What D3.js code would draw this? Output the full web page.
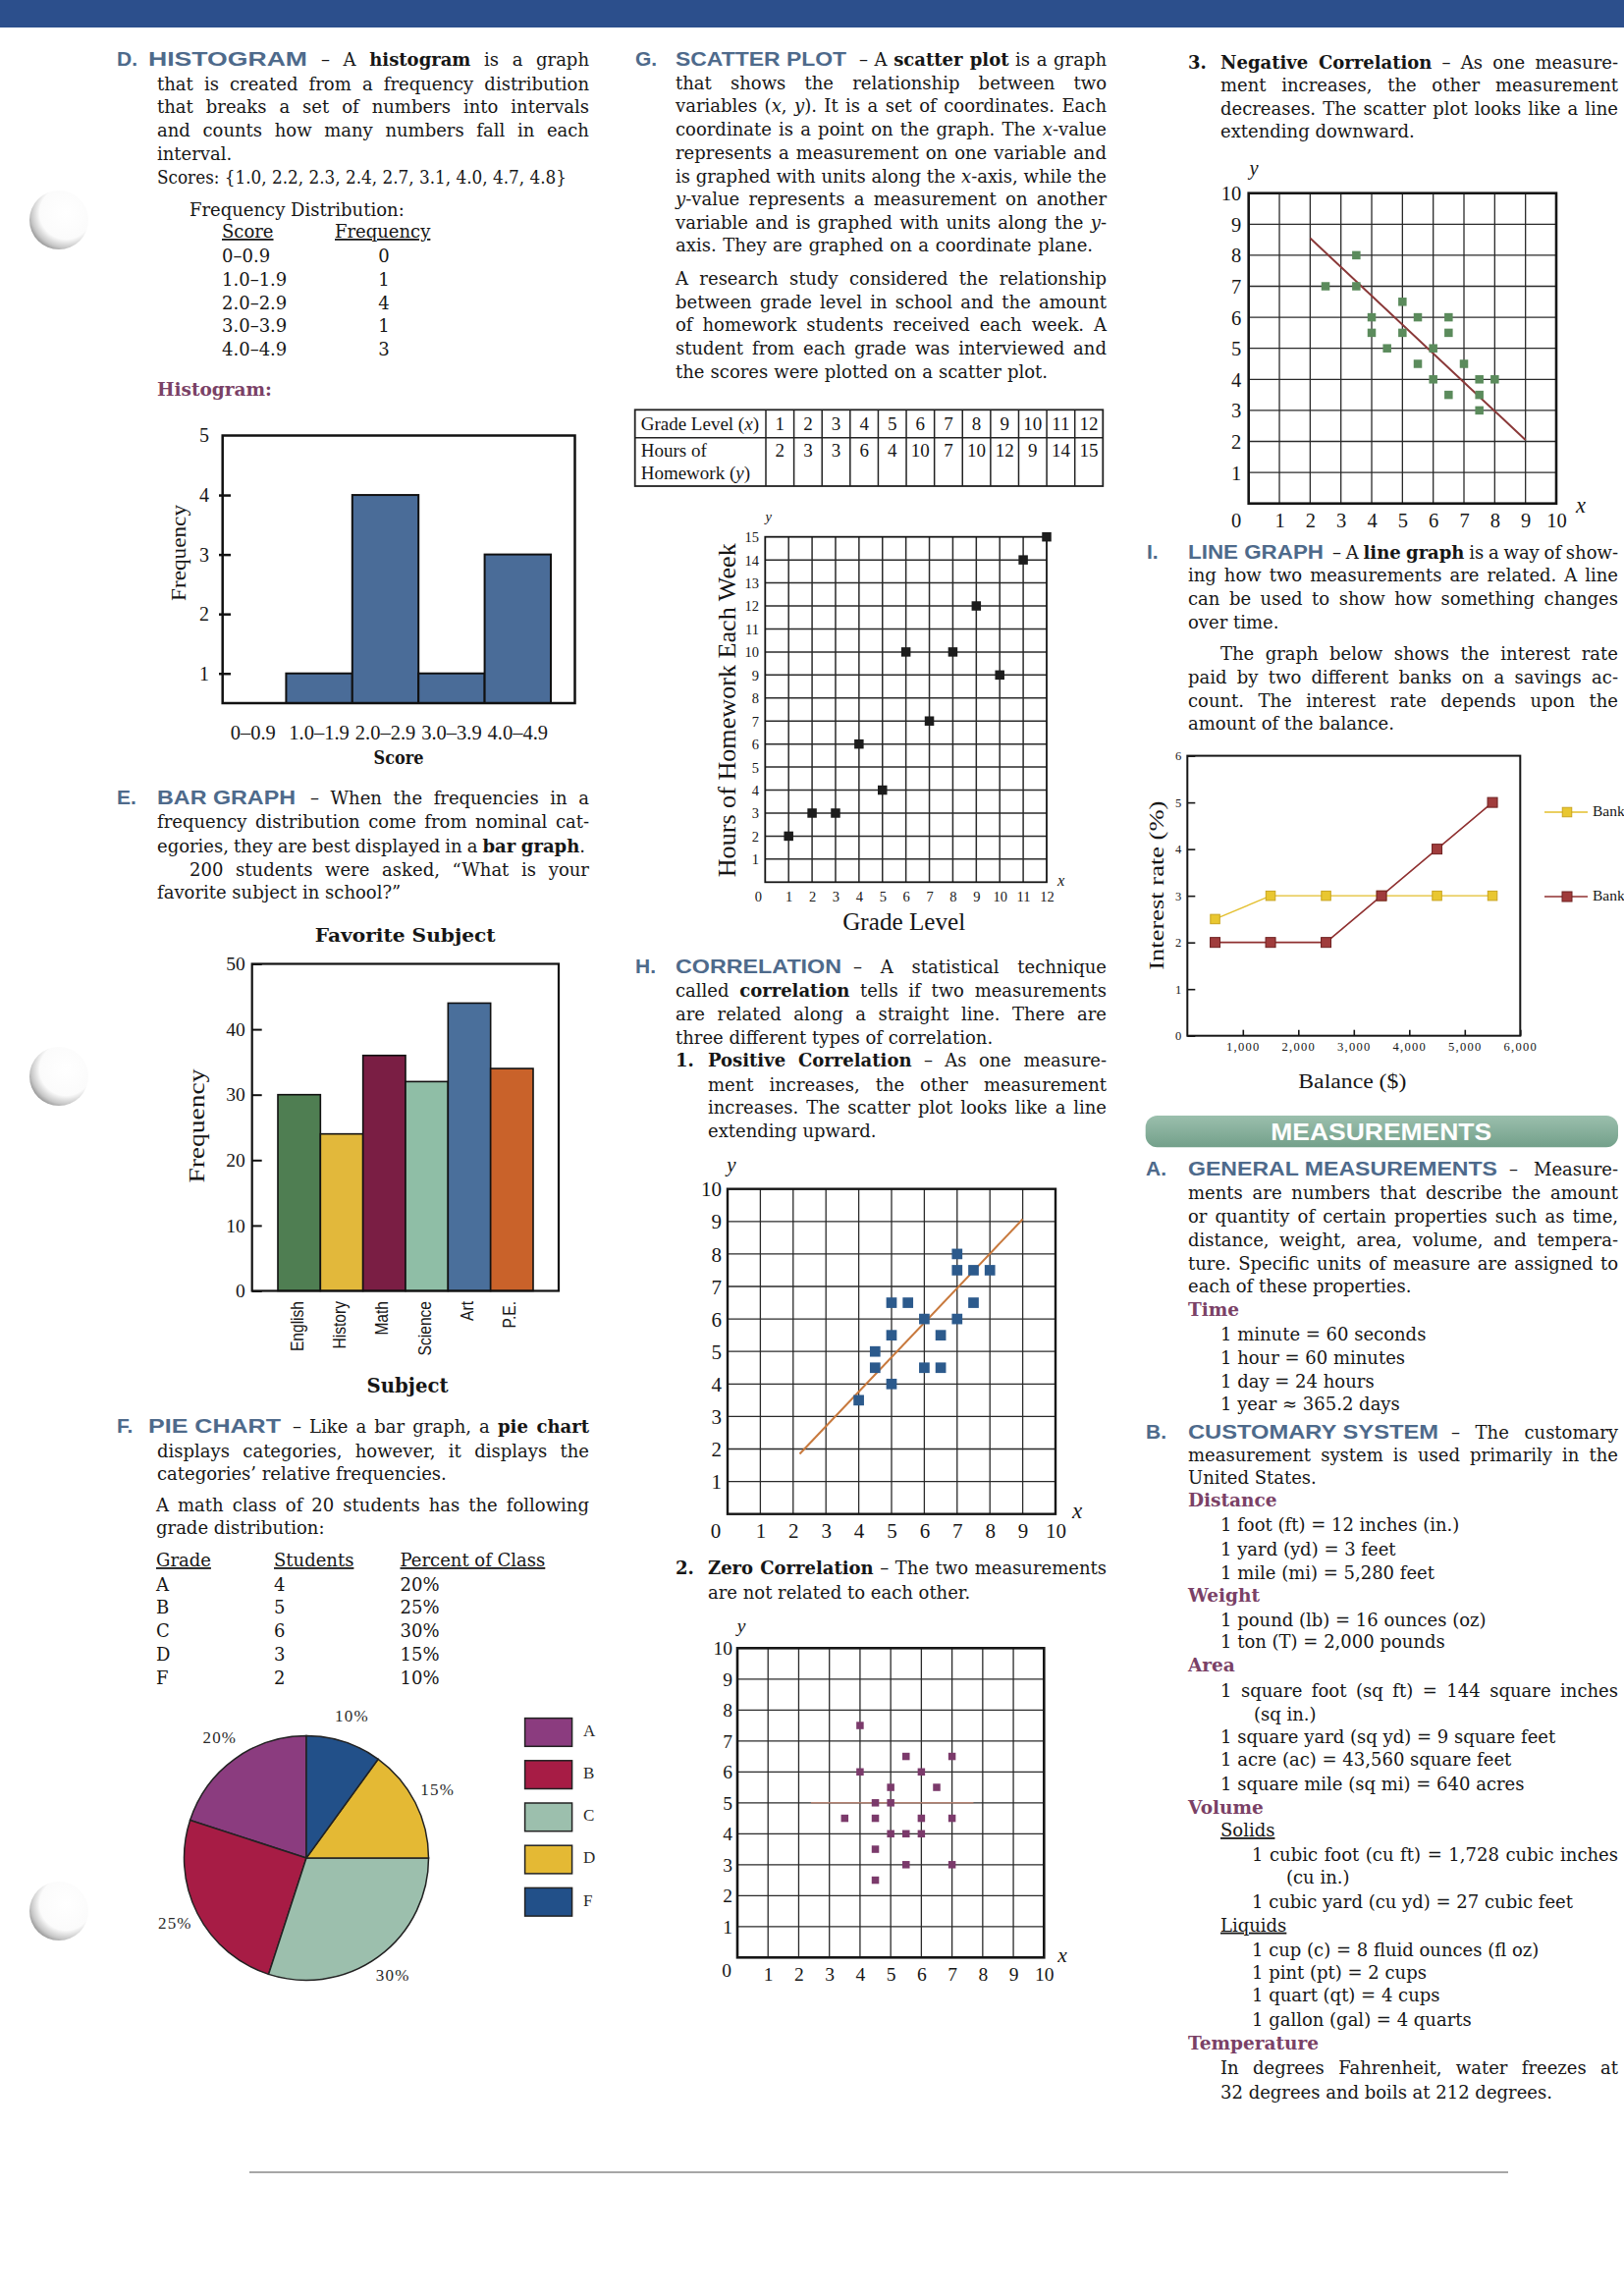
<!DOCTYPE html>
<html><head><meta charset="utf-8">
<script src="https://cdn.jsdelivr.net/npm/d3@7"></script>
<style>html,body{margin:0;padding:0;background:#fff;}svg{display:block;}</style>
</head><body>
<script>
// ---------------- DATA ----------------
const histBins = ["0–0.9","1.0–1.9","2.0–2.9","3.0–3.9","4.0–4.9"];
const histFreq = [0,1,4,1,3];
const histYTicks = [1,2,3,4,5];

const subjects = ["English","History","Math","Science","Art","P.E."];
const subjectFreq = [30,24,36,32,44,34];
const subjectColors = ["#4f7e52","#e2b83b","#7a1e44","#8fbea6","#4a6f9b","#c9622a"];
const barYTicks = [0,10,20,30,40,50];

const grades = ["A","B","C","D","F"];
const gradeStudents = [4,5,6,3,2];
const gradePercents = ["20%","25%","30%","15%","10%"];
const gradeColors = ["#8b3c7f","#a71c45","#9cbfad","#e4b934","#225089"];

const gradeLevels = [1,2,3,4,5,6,7,8,9,10,11,12];
const homeworkHours = [2,3,3,6,4,10,7,10,12,9,14,15];

const posX = [7,7,7.5,8,5,5.5,7.5,6,7,5,6.5,4.5,4.5,6,6.5,5,4];
const posY = [8,7.5,7.5,7.5,6.5,6.5,6.5,6,6,5.5,5.5,5,4.5,4.5,4.5,4,3.5];
const posTrendX = [2.2,9];
const posTrendY = [1.85,9.07];

const zeroX = [4,5.5,7,4,6,5,6.5,4.5,5,3.5,4.5,6,7,5,5.5,6,4.5,5.5,7,4.5];
const zeroY = [7.5,6.5,6.5,6,6,5.5,5.5,5,5,4.5,4.5,4.5,4.5,4,4,4,3.5,3,3,2.5];
const zeroTrendX = [2.4,7.7];
const zeroTrendY = [5,5];

const negX = [3.5,2.5,3.5,5,4,5.5,6.5,4,5,6.5,4.5,6,5.5,7,6,7.5,8,6.5,7.5,7.5];
const negY = [8,7,7,6.5,6,6,6,5.5,5.5,5.5,5,5,4.5,4.5,4,4,4,3.5,3.5,3];
const negTrendX = [2,9];
const negTrendY = [8.55,2.05];

const balances = [500,1500,2500,3500,4500,5500];
const bankA = [2.5,3,3,3,3,3];
const bankB = [2,2,2,3,4,5];
const balanceTicks = [1000,2000,3000,4000,5000,6000];
const balanceTickLabels = ["1,000","2,000","3,000","4,000","5,000","6,000"];
const rateTicks = [0,1,2,3,4,5,6];
const bankLabels = ["Bank","Bank"];   // the page is cropped after the word "Bank"
const bankColors = ["#e3bf2c","#8f3030"];

// ---------------- SETUP ----------------
const W = 1654, H = 2338;
const SERIF = "'DejaVu Serif', serif";
const TSERIF = "'Liberation Serif', 'Times New Roman', serif";
const SANS = "'Liberation Sans', Arial, sans-serif";
const INK = "#161616", HEAD = "#4e6a8b", PURP = "#7a4166", GRID = "#2a2a2a";

const svg = d3.select("body").append("svg").attr("width", W).attr("height", H).attr("viewBox", `0 0 ${W} ${H}`);
svg.append("rect").attr("width", W).attr("height", H).attr("fill", "#fff");
const defs = svg.append("defs");
const hg = defs.append("radialGradient").attr("id", "hole").attr("cx", "62%").attr("cy", "38%").attr("r", "72%");
[["0%","#ffffff"],["62%","#fbfbfb"],["82%","#c8c8c8"],["100%","#7a7a7a"]].forEach(s => hg.append("stop").attr("offset", s[0]).attr("stop-color", s[1]));
const bg = defs.append("linearGradient").attr("id", "band").attr("x1", 0).attr("y1", 0).attr("x2", 0).attr("y2", 1);
[["0%","#9bbfad"],["100%","#73a08a"]].forEach(s => bg.append("stop").attr("offset", s[0]).attr("stop-color", s[1]));

// top band and binder holes
svg.append("rect").attr("x", 0).attr("y", 0).attr("width", W).attr("height", 28).attr("fill", "#2c4f8c");
[224, 1096, 1946].forEach(cy => svg.append("circle").attr("cx", 60).attr("cy", cy).attr("r", 30).attr("fill", "url(#hole)"));
svg.append("line").attr("x1", 254).attr("x2", 1536).attr("y1", 2212).attr("y2", 2212).attr("stroke", "#8a8a8a").attr("stroke-width", 1.5);

// ---------------- TEXT HELPERS ----------------
function txt(x, y, segs, opt = {}) {
  const t = svg.append("text").attr("x", x).attr("y", y)
    .attr("font-family", opt.font || SERIF).attr("font-size", opt.size || 18)
    .attr("fill", opt.fill || INK);
  if (opt.anchor) t.attr("text-anchor", opt.anchor);
  if (opt.weight) t.attr("font-weight", opt.weight);
  (Array.isArray(segs) ? segs : [segs]).forEach(s => {
    if (typeof s === "string") s = { t: s };
    const sp = t.append("tspan").text(s.t);
    if (s.b) sp.attr("font-weight", "bold");
    if (s.i) sp.attr("font-style", "italic");
    if (s.c) sp.attr("fill", s.c);
    if (s.u) sp.attr("text-decoration", "underline");
  });
  if (opt.w) {
    const nat = t.node().getComputedTextLength();
    const n = (t.text().match(/ /g) || []).length;
    const ws = n ? (opt.w - nat) / n : 0;
    if (n && ws > -2.5) t.attr("word-spacing", ws.toFixed(2));
    else t.attr("textLength", opt.w).attr("lengthAdjust", "spacingAndGlyphs");
  }
  return t;
}
function heading(lx, y, letter, x1, x2, word, rx, rest, rEnd) {
  svg.append("text").attr("x", lx).attr("y", y).text(letter)
    .attr("font-family", SANS).attr("font-weight", "bold").attr("font-size", 21).attr("fill", HEAD);
  svg.append("text").attr("x", x1).attr("y", y).text(word)
    .attr("font-family", SANS).attr("font-weight", "bold").attr("font-size", 21).attr("fill", HEAD)
    .attr("textLength", x2 - x1).attr("lengthAdjust", "spacingAndGlyphs");
  txt(rx, y, rest, { w: rEnd - rx });
}
function sub(x, y, s) { txt(x, y, [{ t: s, b: true }], { fill: PURP, size: 18.5 }); }

// ---------------- SECTION D ----------------
heading(119, 67, "D.", 151, 313, "HISTOGRAM", 327, ["– A ", { t: "histogram", b: true }, " is a graph"], 600);
txt(160, 91.5, "that is created from a frequency distribution", { w: 440 });
txt(160, 115, "that breaks a set of numbers into intervals", { w: 440 });
txt(160, 139, "and counts how many numbers fall in each", { w: 440 });
txt(160, 163, "interval.");
txt(160, 187, "Scores: {1.0, 2.2, 2.3, 2.4, 2.7, 3.1, 4.0, 4.7, 4.8}", { w: 417 });
txt(193, 220, "Frequency Distribution:");
txt(226, 242, [{ t: "Score", u: true }]);
txt(341, 242, [{ t: "Frequency", u: true }]);
histBins.forEach((b, i) => {
  const y = 267 + i * 23.8;
  txt(226, y, b);
  txt(391, y, String(histFreq[i]), { anchor: "middle" });
});
sub(160, 403, "Histogram:");

// Histogram chart
{
  const x = d3.scaleBand().domain(histBins).range([224, 561]).padding(0);
  const y = d3.scaleLinear().domain([0.5, 5]).range([716, 443.5]);
  const g = svg.append("g");
  g.selectAll("rect.bar").data(histBins.map((b, i) => ({ b, f: histFreq[i] })).filter(d => d.f > 0))
    .join("rect").attr("class", "bar")
    .attr("x", d => x(d.b)).attr("width", x.bandwidth())
    .attr("y", d => y(d.f)).attr("height", d => y(0.5) - y(d.f))
    .attr("fill", "#4a6c98").attr("stroke", "#111").attr("stroke-width", 2);
  g.append("rect").attr("x", 226.7).attr("y", 443.5).attr("width", 585.5 - 226.7).attr("height", 716 - 443.5)
    .attr("fill", "none").attr("stroke", "#111").attr("stroke-width", 2.5);
  const ya = g.append("g").attr("transform", "translate(235,0)")
    .call(d3.axisLeft(y).tickValues(histYTicks).tickFormat(d3.format("d")).tickSizeInner(12).tickSizeOuter(0).tickPadding(10));
  ya.select(".domain").remove();
  ya.selectAll(".tick line").attr("stroke", "#111").attr("stroke-width", 2.5).filter(d => d === 5).remove();
  ya.selectAll("text").attr("font-family", TSERIF).attr("font-size", 20).attr("fill", INK);
  const xa = g.append("g").attr("transform", "translate(0,716)").call(d3.axisBottom(x).tickSize(0));
  xa.select(".domain").remove();
  xa.selectAll("text").attr("dy", null).attr("y", 37).attr("font-family", TSERIF).attr("font-size", 20.5).attr("fill", INK);
  txt(406, 778, "Score", { anchor: "middle", size: 19, weight: "bold" }).attr("textLength", 51).attr("lengthAdjust", "spacingAndGlyphs");
  svg.append("text").attr("transform", "translate(189,563) rotate(-90)").attr("text-anchor", "middle")
    .attr("font-family", TSERIF).attr("font-size", 22).attr("fill", INK).text("Frequency")
    .attr("textLength", 98).attr("lengthAdjust", "spacingAndGlyphs");
}

// ---------------- SECTION E ----------------
heading(119, 819, "E.", 160, 301, "BAR GRAPH", 316, "– When the frequencies in a", 600);
txt(160, 843, "frequency distribution come from nominal cat-", { w: 440 });
txt(160, 867.5, ["egories, they are best displayed in a ", { t: "bar graph", b: true }, "."], { w: 436 });
txt(193, 891.5, "200 students were asked, “What is your", { w: 407 });
txt(160, 915, "favorite subject in school?”");

{
  const x = d3.scaleBand().domain(subjects).range([283, 543]).padding(0);
  const y = d3.scaleLinear().domain([0, 50]).range([1314.5, 981.5]);
  const g = svg.append("g");
  g.selectAll("rect.bar").data(subjects.map((s, i) => ({ s, v: subjectFreq[i], c: subjectColors[i] })))
    .join("rect").attr("class", "bar")
    .attr("x", d => x(d.s)).attr("width", x.bandwidth())
    .attr("y", d => y(d.v)).attr("height", d => y(0) - y(d.v))
    .attr("fill", d => d.c).attr("stroke", "#111").attr("stroke-width", 1.6);
  g.append("rect").attr("x", 256.7).attr("y", 981.5).attr("width", 569 - 256.7).attr("height", 1314.5 - 981.5)
    .attr("fill", "none").attr("stroke", "#111").attr("stroke-width", 2.2);
  const ya = g.append("g").attr("transform", "translate(256.7,0)")
    .call(d3.axisLeft(y).tickValues(barYTicks).tickFormat(d3.format("d")).tickSizeInner(-10).tickSizeOuter(0).tickPadding(7));
  ya.select(".domain").remove();
  ya.selectAll(".tick line").attr("stroke", "#111").attr("stroke-width", 2);
  ya.selectAll("text").attr("font-family", TSERIF).attr("font-size", 19.5).attr("fill", INK);
  subjects.forEach(s => {
    svg.append("text").attr("transform", `translate(${x(s) + x.bandwidth() / 2 + 4},1325) rotate(-90) scale(0.82,1)`)
      .attr("text-anchor", "end").attr("font-family", SANS).attr("font-size", 19).attr("fill", INK).text(s);
  });
  txt(412.7, 959, "Favorite Subject", { anchor: "middle", size: 19, weight: "bold" }).attr("textLength", 184).attr("lengthAdjust", "spacingAndGlyphs");
  txt(415, 1418, "Subject", { anchor: "middle", size: 20, weight: "bold" }).attr("textLength", 83).attr("lengthAdjust", "spacingAndGlyphs");
  svg.append("text").attr("transform", "translate(208,1146.6) rotate(-90)").attr("text-anchor", "middle")
    .attr("font-family", TSERIF).attr("font-size", 24).attr("fill", INK).text("Frequency")
    .attr("textLength", 116).attr("lengthAdjust", "spacingAndGlyphs");
}

// ---------------- SECTION F ----------------
heading(119, 1459, "F.", 151, 286, "PIE CHART", 298, ["– Like a bar graph, a ", { t: "pie chart", b: true }], 600);
txt(160, 1483.5, "displays categories, however, it displays the", { w: 440 });
txt(160, 1507, "categories’ relative frequencies.");
txt(159, 1539, "A math class of 20 students has the following", { w: 441 });
txt(159, 1562, "grade distribution:");
txt(159, 1595, [{ t: "Grade", u: true }]);
txt(279, 1595, [{ t: "Students", u: true }]);
txt(407.5, 1595, [{ t: "Percent of Class", u: true }]);
grades.forEach((gr, i) => {
  const y = 1619.5 + i * 23.9;
  txt(159, y, gr);
  txt(279, y, String(gradeStudents[i]));
  txt(407.5, y, gradePercents[i]);
});
{
  const g = svg.append("g").attr("transform", "translate(312,1892)");
  const pie = d3.pie().sort(null).startAngle(0).endAngle(-2 * Math.PI);
  const arcs = pie(gradeStudents);
  const arc = d3.arc().innerRadius(0).outerRadius(124.5);
  const lab = d3.arc().innerRadius(150).outerRadius(150);
  g.selectAll("path").data(arcs).join("path").attr("d", arc)
    .attr("fill", (d, i) => gradeColors[i]).attr("stroke", "#222").attr("stroke-width", 1.5);
  g.selectAll("text").data(arcs).join("text")
    .attr("transform", d => `translate(${lab.centroid(d)})`)
    .attr("text-anchor", "middle").attr("dominant-baseline", "middle")
    .attr("font-family", TSERIF).attr("font-size", 17).attr("letter-spacing", 1.2).attr("fill", "#2a2a2a")
    .text((d, i) => gradePercents[i]);
  grades.forEach((gr, i) => {
    const y = 1749.6 + i * 43.2;
    svg.append("rect").attr("x", 534.6).attr("y", y).attr("width", 48).attr("height", 28.7)
      .attr("fill", gradeColors[i]).attr("stroke", "#222").attr("stroke-width", 1.5);
    svg.append("text").attr("x", 594).attr("y", y + 14.35).attr("dominant-baseline", "middle")
      .attr("font-family", TSERIF).attr("font-size", 17).attr("fill", "#2a2a2a").text(gr);
  });
}

// ---------------- SECTION G ----------------
heading(647, 67, "G.", 688, 862, "SCATTER PLOT", 875, ["– A ", { t: "scatter plot", b: true }, " is a graph"], 1127);
txt(688, 90.5, "that shows the relationship between two", { w: 439 });
txt(688, 114, ["variables (", { t: "x", i: true }, ", ", { t: "y", i: true }, "). It is a set of coordinates. Each"], { w: 439 });
txt(688, 138, ["coordinate is a point on the graph. The ", { t: "x", i: true }, "-value"], { w: 439 });
txt(688, 161.5, "represents a measurement on one variable and", { w: 439 });
txt(688, 185.5, ["is graphed with units along the ", { t: "x", i: true }, "-axis, while the"], { w: 439 });
txt(688, 209, [{ t: "y", i: true }, "-value represents a measurement on another"], { w: 439 });
txt(688, 232.5, ["variable and is graphed with units along the ", { t: "y", i: true }, "-"], { w: 439 });
txt(688, 256, "axis. They are graphed on a coordinate plane.", { w: 425 });
txt(688, 290, "A research study considered the relationship", { w: 439 });
txt(688, 313.5, "between grade level in school and the amount", { w: 439 });
txt(688, 337, "of homework students received each week. A", { w: 439 });
txt(688, 361, "student from each grade was interviewed and", { w: 439 });
txt(688, 385, "the scores were plotted on a scatter plot.", { w: 379 });

// table
{
  const g = svg.append("g");
  const cx = d3.scaleBand().domain(gradeLevels).range([780, 1123.3]);
  g.append("rect").attr("x", 646.7).attr("y", 417.3).attr("width", 1123.3 - 646.7).attr("height", 495 - 417.3)
    .attr("fill", "none").attr("stroke", "#222").attr("stroke-width", 1.8);
  g.append("line").attr("x1", 646.7).attr("x2", 1123.3).attr("y1", 445.7).attr("y2", 445.7).attr("stroke", "#222").attr("stroke-width", 1.5);
  g.selectAll("line.col").data(gradeLevels).join("line").attr("class", "col")
    .attr("x1", d => cx(d)).attr("x2", d => cx(d)).attr("y1", 417.3).attr("y2", 495).attr("stroke", "#222").attr("stroke-width", 1.5);
  txt(652.7, 438.3, ["Grade Level (", { t: "x", i: true }, ")"], { font: TSERIF, size: 19 });
  txt(652.7, 465, "Hours of", { font: TSERIF, size: 19 });
  txt(652.7, 488.3, ["Homework (", { t: "y", i: true }, ")"], { font: TSERIF, size: 19 });
  gradeLevels.forEach((gl, i) => {
    txt(cx(gl) + cx.bandwidth() / 2, 438.3, String(gl), { font: TSERIF, size: 19, anchor: "middle" });
    txt(cx(gl) + cx.bandwidth() / 2, 465, String(homeworkHours[i]), { font: TSERIF, size: 19, anchor: "middle" });
  });
}

// generic grid scatter
function gridPlot(o) {
  const x = d3.scaleLinear().domain([0, o.xmax]).range([o.left, o.right]);
  const y = d3.scaleLinear().domain([0, o.ymax]).range([o.bottom, o.top]);
  const g = svg.append("g");
  g.selectAll("line.vx").data(d3.range(1, o.xmax)).join("line").attr("class", "vx")
    .attr("x1", d => x(d)).attr("x2", d => x(d)).attr("y1", o.top).attr("y2", o.bottom)
    .attr("stroke", GRID).attr("stroke-width", o.gw);
  g.selectAll("line.hy").data(d3.range(1, o.ymax)).join("line").attr("class", "hy")
    .attr("y1", d => y(d)).attr("y2", d => y(d)).attr("x1", o.left).attr("x2", o.right)
    .attr("stroke", GRID).attr("stroke-width", o.gw);
  g.append("rect").attr("x", o.left).attr("y", o.top).attr("width", o.right - o.left).attr("height", o.bottom - o.top)
    .attr("fill", "none").attr("stroke", "#161616").attr("stroke-width", o.bw);
  if (o.trend) {
    g.append("line").attr("x1", x(o.trend[0][0])).attr("y1", y(o.trend[1][0]))
      .attr("x2", x(o.trend[0][1])).attr("y2", y(o.trend[1][1]))
      .attr("stroke", o.trendColor).attr("stroke-width", o.trendW || 2);
  }
  const s = o.ms;
  g.selectAll("rect.pt").data(o.xs.map((v, i) => [v, o.ys[i]])).join("rect").attr("class", "pt")
    .attr("x", d => x(d[0]) - s / 2).attr("y", d => y(d[1]) - s / 2).attr("width", s).attr("height", s)
    .attr("fill", o.color);
  const ya = g.append("g").attr("transform", `translate(${o.left},0)`)
    .call(d3.axisLeft(y).tickValues(d3.range(1, o.ymax + 1)).tickFormat(d3.format("d")).tickSize(0).tickPadding(o.left - o.yLabRight));
  ya.select(".domain").remove();
  ya.selectAll("text").attr("font-family", TSERIF).attr("font-size", o.fs).attr("fill", INK).attr("dy", "0.34em");
  const xa = g.append("g").attr("transform", `translate(0,${o.bottom})`)
    .call(d3.axisBottom(x).tickValues(d3.range(1, o.xmax + 1)).tickFormat(d3.format("d")).tickSize(0));
  xa.select(".domain").remove();
  xa.selectAll("text").attr("dy", null).attr("y", o.xLabBase - o.bottom).attr("font-family", TSERIF).attr("font-size", o.fs).attr("fill", INK);
  txt(o.zeroX, o.zeroBase, "0", { font: TSERIF, size: o.fs, anchor: "middle" });
  txt(o.yLab[0], o.yLab[1], [{ t: "y", i: true }], { font: TSERIF, size: o.fs, anchor: "middle" });
  txt(o.xLab[0], o.xLab[1], [{ t: "x", i: true }], { font: TSERIF, size: o.fs + 2, anchor: "middle" });
  return { x, y };
}

gridPlot({ left: 779.3, right: 1066, top: 546.7, bottom: 898.3, xmax: 12, ymax: 15, gw: 1.5, bw: 1.8,
  xs: gradeLevels, ys: homeworkHours, ms: 9.5, color: "#1c1c1c", fs: 14.5, yLabRight: 773,
  xLabBase: 918.3, zeroX: 772.3, zeroBase: 918.3, yLab: [782.7, 531], xLab: [1080.7, 902] });
svg.append("text").attr("transform", "translate(749,723.3) rotate(-90)").attr("text-anchor", "middle")
  .attr("font-family", TSERIF).attr("font-size", 26).attr("fill", INK).text("Hours of Homework Each Week")
  .attr("textLength", 340).attr("lengthAdjust", "spacingAndGlyphs");
txt(920.7, 946.7, "Grade Level", { font: TSERIF, size: 25, anchor: "middle" }).attr("textLength", 125).attr("lengthAdjust", "spacingAndGlyphs");

// ---------------- SECTION H ----------------
heading(647, 990.5, "H.", 688, 857, "CORRELATION", 869, "– A statistical technique", 1127);
txt(688, 1015, ["called ", { t: "correlation", b: true }, " tells if two measurements"], { w: 439 });
txt(688, 1039, "are related along a straight line. There are", { w: 439 });
txt(688, 1062.5, "three different types of correlation.");
txt(688, 1086.3, [{ t: "1.", b: true }]);
txt(721, 1086.3, [{ t: "Positive Correlation", b: true }, " – As one measure-"], { w: 406 });
txt(721, 1110.5, "ment increases, the other measurement", { w: 406 });
txt(721, 1134, "increases. The scatter plot looks like a line", { w: 406 });
txt(721, 1158, "extending upward.");

gridPlot({ left: 741, right: 1075, top: 1210.7, bottom: 1541.7, xmax: 10, ymax: 10, gw: 1.3, bw: 2.4,
  xs: posX, ys: posY, ms: 10.7, color: "#2c5a8c", fs: 21, yLabRight: 735,
  trend: [posTrendX, posTrendY], trendColor: "#c8793d", trendW: 2,
  xLabBase: 1566, zeroX: 729, zeroBase: 1566, yLab: [745, 1193], xLab: [1097, 1546] });

txt(688, 1603.3, [{ t: "2.", b: true }]);
txt(721, 1603.3, [{ t: "Zero Correlation", b: true }, " – The two measurements"], { w: 406 });
txt(721, 1628, "are not related to each other.");

gridPlot({ left: 751, right: 1063.3, top: 1678.3, bottom: 1993.3, xmax: 10, ymax: 10, gw: 1.3, bw: 2.6,
  xs: zeroX, ys: zeroY, ms: 7.5, color: "#7b3a6b", fs: 19.5, yLabRight: 746,
  trend: [zeroTrendX, zeroTrendY], trendColor: "#b08070", trendW: 1.6,
  xLabBase: 2017, zeroX: 740, zeroBase: 2013, yLab: [755, 1662], xLab: [1082, 1998] });

// ---------------- SECTION: NEGATIVE ----------------
txt(1210, 70, [{ t: "3.", b: true }]);
txt(1243, 70, [{ t: "Negative Correlation", b: true }, " – As one measure-"], { w: 405 });
txt(1243, 93.3, "ment increases, the other measurement", { w: 405 });
txt(1243, 116.7, "decreases. The scatter plot looks like a line", { w: 405 });
txt(1243, 140, "extending downward.");

gridPlot({ left: 1271.7, right: 1585, top: 196.7, bottom: 512.7, xmax: 10, ymax: 10, gw: 1.3, bw: 2.6,
  xs: negX, ys: negY, ms: 8.5, color: "#5b8b5c", fs: 20.5, yLabRight: 1264.3,
  trend: [negTrendX, negTrendY], trendColor: "#8a3838", trendW: 2,
  xLabBase: 536.7, zeroX: 1259, zeroBase: 536.7, yLab: [1277, 178], xLab: [1610, 522] });

// ---------------- SECTION I ----------------
heading(1168, 568.7, "I.", 1210, 1348, "LINE GRAPH", 1357, ["– A ", { t: "line graph", b: true }, " is a way of show-"], 1648);
txt(1210, 592, "ing how two measurements are related. A line", { w: 438 });
txt(1210, 616, "can be used to show how something changes", { w: 438 });
txt(1210, 639.5, "over time.");
txt(1243, 672, "The graph below shows the interest rate", { w: 405 });
txt(1210, 695.5, "paid by two different banks on a savings ac-", { w: 438 });
txt(1210, 719.5, "count. The interest rate depends upon the", { w: 438 });
txt(1210, 743, "amount of the balance.");

{
  const x = d3.scaleLinear().domain([0, 6000]).range([1209.3, 1548.3]);
  const y = d3.scaleLinear().domain([0, 6]).range([1054.7, 769.6]);
  const g = svg.append("g");
  g.append("rect").attr("x", 1209.3).attr("y", 769.6).attr("width", 1548.3 - 1209.3).attr("height", 1054.7 - 769.6)
    .attr("fill", "none").attr("stroke", "#161616").attr("stroke-width", 2);
  const ya = g.append("g").attr("transform", "translate(1209.3,0)")
    .call(d3.axisLeft(y).tickValues(rateTicks).tickSizeInner(-8).tickSizeOuter(0).tickPadding(6).tickFormat(d3.format("d")));
  ya.select(".domain").remove();
  ya.selectAll(".tick line").attr("stroke", "#161616").attr("stroke-width", 1.6);
  ya.selectAll("text").attr("font-family", TSERIF).attr("font-size", 12.5).attr("fill", INK);
  const xa = g.append("g").attr("transform", "translate(0,1054.7)")
    .call(d3.axisBottom(x).tickValues(balanceTicks).tickSizeInner(-6).tickSizeOuter(0).tickFormat((d, i) => balanceTickLabels[i]));
  xa.select(".domain").remove();
  xa.selectAll(".tick line").attr("stroke", "#161616").attr("stroke-width", 1.6);
  xa.selectAll("text").attr("dy", null).attr("y", 15.5).attr("font-family", TSERIF).attr("font-size", 12.5)
    .attr("letter-spacing", 1.3).attr("fill", INK);
  const series = [bankA, bankB];
  series.forEach((vals, si) => {
    const pts = balances.map((b, i) => [b, vals[i]]);
    g.append("path").attr("d", d3.line().x(d => x(d[0])).y(d => y(d[1]))(pts))
      .attr("fill", "none").attr("stroke", bankColors[si]).attr("stroke-width", si ? 1.6 : 1.4);
    const s = si ? 10 : 9.5;
    g.selectAll(null).data(pts).join("rect")
      .attr("x", d => x(d[0]) - s / 2).attr("y", d => y(d[1]) - s / 2).attr("width", s).attr("height", s)
      .attr("fill", si ? "#a03c3c" : "#e9c730").attr("stroke", si ? "#6e2020" : "#c9a41e").attr("stroke-width", 1);
    const ly = si ? 913 : 827;
    g.append("line").attr("x1", 1573).attr("x2", 1617).attr("y1", ly).attr("y2", ly)
      .attr("stroke", bankColors[si]).attr("stroke-width", si ? 1.6 : 1.4);
    g.append("rect").attr("x", 1596 - s / 2).attr("y", ly - s / 2).attr("width", s).attr("height", s)
      .attr("fill", si ? "#a03c3c" : "#e9c730").attr("stroke", si ? "#6e2020" : "#c9a41e").attr("stroke-width", 1);
    g.append("text").attr("x", 1622).attr("y", ly).attr("dominant-baseline", "middle")
      .attr("font-family", TSERIF).attr("font-size", 15.5).attr("fill", INK).text(bankLabels[si]);
  });
  txt(1377.3, 1108.3, "Balance ($)", { font: TSERIF, size: 20, anchor: "middle" }).attr("textLength", 110).attr("lengthAdjust", "spacingAndGlyphs");
  svg.append("text").attr("transform", "translate(1185,901.7) rotate(-90)").attr("text-anchor", "middle")
    .attr("font-family", TSERIF).attr("font-size", 20).attr("fill", INK).text("Interest rate (%)")
    .attr("textLength", 172).attr("lengthAdjust", "spacingAndGlyphs");
}

// ---------------- MEASUREMENTS ----------------
svg.append("rect").attr("x", 1166.7).attr("y", 1136).attr("width", 1648 - 1166.7).attr("height", 32.2).attr("rx", 12)
  .attr("fill", "url(#band)");
svg.append("text").attr("x", 1406.7).attr("y", 1161).attr("text-anchor", "middle").attr("font-family", SANS)
  .attr("font-weight", "bold").attr("font-size", 24).attr("fill", "#fff").text("MEASUREMENTS")
  .attr("textLength", 225).attr("lengthAdjust", "spacingAndGlyphs");

heading(1167, 1196.8, "A.", 1210, 1525, "GENERAL MEASUREMENTS", 1537, "– Measure-", 1648);
txt(1210, 1221, "ments are numbers that describe the amount", { w: 438 });
txt(1210, 1245, "or quantity of certain properties such as time,", { w: 438 });
txt(1210, 1269.3, "distance, weight, area, volume, and tempera-", { w: 438 });
txt(1210, 1293.2, "ture. Specific units of measure are assigned to", { w: 438 });
txt(1210, 1316.4, "each of these properties.");
sub(1210, 1339.6, "Time");
txt(1243, 1364.6, "1 minute = 60 seconds");
txt(1243, 1388.6, "1 hour = 60 minutes");
txt(1243, 1412.9, "1 day = 24 hours");
txt(1243, 1436, "1 year ≈ 365.2 days");

heading(1167, 1464.6, "B.", 1210, 1465, "CUSTOMARY SYSTEM", 1478, "– The customary", 1648);
txt(1210, 1488, "measurement system is used primarily in the", { w: 438 });
txt(1210, 1511, "United States.");
sub(1210, 1534.3, "Distance");
txt(1243, 1559.3, "1 foot (ft) = 12 inches (in.)");
txt(1243, 1583.6, "1 yard (yd) = 3 feet");
txt(1243, 1607.5, "1 mile (mi) = 5,280 feet");
sub(1210, 1630.7, "Weight");
txt(1243, 1655.7, "1 pound (lb) = 16 ounces (oz)");
txt(1243, 1678.3, "1 ton (T) = 2,000 pounds");
sub(1210, 1701.7, "Area");
txt(1243, 1728.3, "1 square foot (sq ft) = 144 square inches", { w: 405 });
txt(1277, 1751.7, "(sq in.)");
txt(1243, 1775, "1 square yard (sq yd) = 9 square feet");
txt(1243, 1798.3, "1 acre (ac) = 43,560 square feet");
txt(1243, 1823.3, "1 square mile (sq mi) = 640 acres");
sub(1210, 1846.7, "Volume");
txt(1243, 1870, [{ t: "Solids", u: true }]);
txt(1275, 1895, "1 cubic foot (cu ft) = 1,728 cubic inches", { w: 373 });
txt(1310, 1918.3, "(cu in.)");
txt(1275, 1943.3, "1 cubic yard (cu yd) = 27 cubic feet");
txt(1243, 1966.7, [{ t: "Liquids", u: true }]);
txt(1275, 1991.7, "1 cup (c) = 8 fluid ounces (fl oz)");
txt(1275, 2015, "1 pint (pt) = 2 cups");
txt(1275, 2038.3, "1 quart (qt) = 4 cups");
txt(1275, 2063.3, "1 gallon (gal) = 4 quarts");
sub(1210, 2086.7, "Temperature");
txt(1243, 2111.7, "In degrees Fahrenheit, water freezes at", { w: 405 });
txt(1243, 2136.7, "32 degrees and boils at 212 degrees.");
</script>
</body></html>
